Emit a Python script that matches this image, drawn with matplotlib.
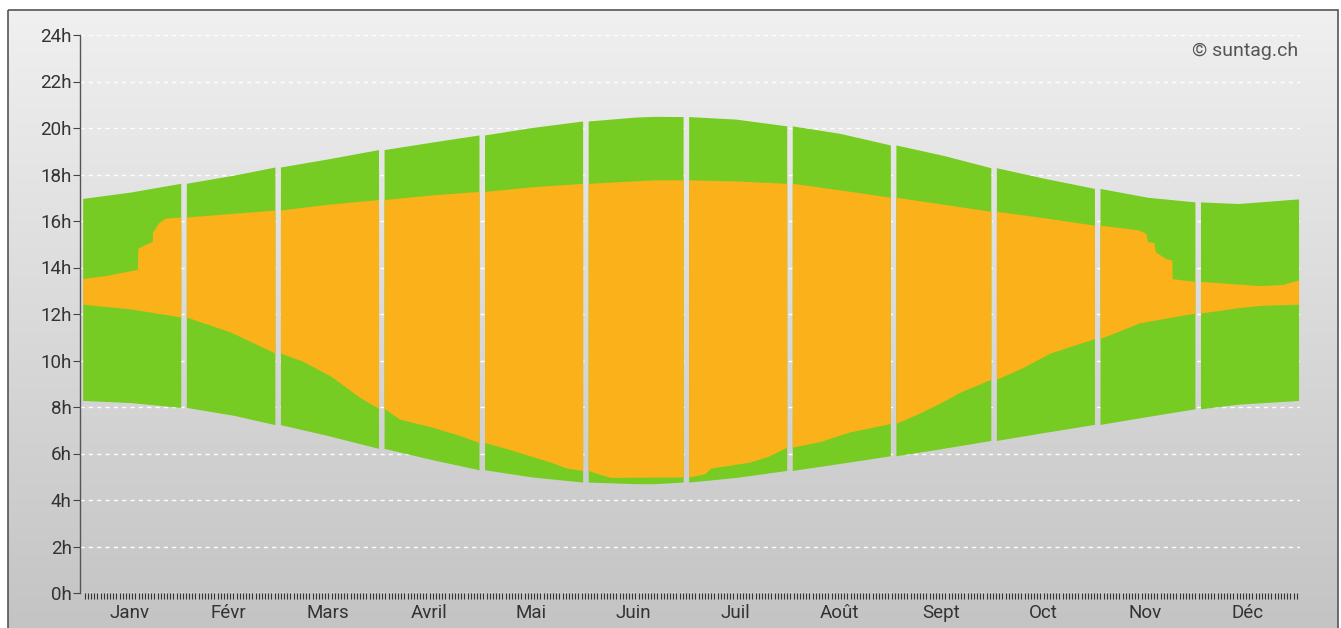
import numpy as np
import matplotlib
matplotlib.use("Agg")
import matplotlib.pyplot as plt
from matplotlib.patches import Rectangle

plt.rcParams['font.family'] = ['Roboto', 'DejaVu Sans']

# données (jour de l'année, heure)
month_names = ["Janv", "Févr", "Mars", "Avril", "Mai", "Juin",
               "Juil", "Août", "Sept", "Oct", "Nov", "Déc"]
month_days = [31, 28, 31, 30, 31, 30, 31, 31, 30, 31, 30, 31]

# lever / coucher du soleil (bande verte)
sun_days = [0, 15, 31, 46, 59, 74, 90, 105, 120, 135, 151, 166, 172, 181, 196,
            212, 227, 243, 258, 273, 288, 304, 319, 334, 346, 365]
sunset = [16.95, 17.22, 17.6, 17.95, 18.3, 18.65, 19.05, 19.37, 19.68, 20.0, 20.28,
          20.45, 20.48, 20.47, 20.36, 20.07, 19.75, 19.25, 18.8, 18.27, 17.82, 17.38,
          17.0, 16.8, 16.73, 16.93]
sunrise = [8.26, 8.17, 7.96, 7.62, 7.22, 6.75, 6.2, 5.72, 5.28, 4.97, 4.75,
           4.68, 4.68, 4.75, 4.95, 5.25, 5.55, 5.88, 6.2, 6.54, 6.88, 7.23,
           7.57, 7.9, 8.1, 8.26]

# soleil visible (bande orange), fin
vis_end_days = [0, 8, 17.3, 17.4, 19.5, 22, 22.1, 24, 26, 31, 59, 74, 90, 105, 120,
                135, 151, 172, 181, 196, 212, 228, 243, 258, 273, 289, 304, 313,
                316, 318.5, 319, 321, 321.5, 325, 326.7, 326.8, 334, 353, 360, 365]
vis_end = [13.5, 13.65, 13.9, 14.8, 14.95, 15.1, 15.5, 15.9, 16.1, 16.15, 16.45,
           16.7, 16.9, 17.1, 17.25, 17.45, 17.6, 17.75, 17.75, 17.7, 17.6, 17.3,
           17.0, 16.7, 16.4, 16.1, 15.8, 15.65, 15.6, 15.45, 15.1, 15.05, 14.65,
           14.35, 14.3, 13.5, 13.38, 13.2, 13.25, 13.45]

# soleil visible, début
vis_start_days = [0, 15, 31, 45, 59, 66, 75, 84, 90, 95, 105, 114, 120, 128, 135,
                  141, 146, 151, 155, 158, 181, 186, 188, 200, 206, 212, 221, 230,
                  243, 251, 257, 263, 273, 281, 290, 304, 316.6, 329, 334, 346,
                  353, 365]
vis_start = [12.4, 12.2, 11.85, 11.2, 10.3, 9.95, 9.3, 8.4, 7.92, 7.45, 7.12, 6.75,
             6.45, 6.15, 5.85, 5.6, 5.35, 5.25, 5.07, 4.95, 4.97, 5.1, 5.35, 5.6,
             5.85, 6.25, 6.5, 6.9, 7.27, 7.75, 8.15, 8.6, 9.17, 9.65, 10.3, 10.92,
             11.6, 11.9, 12.02, 12.25, 12.35, 12.4]

GREEN = "#76cc22"
ORANGE = "#fbb11a"
GAP = 1.75  # écart entre les mois, en jours

cum = np.concatenate([[0], np.cumsum(month_days)])


def band(ax, d_lo, lo, d_hi, hi, color):
    d_lo, lo, d_hi, hi = map(np.asarray, (d_lo, lo, d_hi, hi))
    for m in range(12):
        a, b = cum[m], cum[m + 1]
        s1 = (d_hi >= a) & (d_hi <= b)
        s2 = (d_lo >= a) & (d_lo <= b)
        xu = d_hi[s1] + m * GAP
        xl = d_lo[s2] + m * GAP
        ax.fill(np.r_[xu, xl[::-1]], np.r_[hi[s1], lo[s2][::-1]],
                color=color, lw=0, zorder=3)


fig = plt.figure(figsize=(13.41, 6.28), dpi=100)

# fond dégradé avec cadre
bg = fig.add_axes([0, 0, 1, 1])
bg.set_xlim(0, 1341)
bg.set_ylim(628, 0)
bg.axis("off")
grad = np.linspace(0, 1, 256).reshape(-1, 1)
bg.imshow(grad, cmap=matplotlib.colors.LinearSegmentedColormap.from_list(
    "g", ["#f0f0f0", "#c3c3c3"]), extent=(8, 1338, 640, 10), aspect="auto")
bg.add_patch(Rectangle((8, 10), 1330, 640, fill=False, ec="#555555", lw=1.2))

ax = fig.add_axes([80 / 1341, 35 / 628, 1220 / 1341, 558 / 628])
ax.set_facecolor("none")

band(ax, sun_days, sunrise, sun_days, sunset, GREEN)
band(ax, vis_start_days, vis_start, vis_end_days, vis_end, ORANGE)

total = 365 + 11 * GAP
ax.set_xlim(-1, total + 0.3)
ax.set_ylim(0, 24)

yt = np.arange(0, 25, 2)
ax.set_yticks(yt)
ax.set_yticklabels([f"{int(v)}h" for v in yt], fontsize=13.5, color="#333333")
for v in yt:
    ax.axhline(v, color="white", lw=1, ls=(0, (3, 3)), zorder=1)

# ticks des jours et noms des mois
mid_x = [cum[m] + month_days[m] / 2 + m * GAP - 0.8 for m in range(12)]
ax.set_xticks(np.arange(0.5, total, 1.0), minor=True)
ax.set_xticks(mid_x)
ax.set_xticklabels(month_names, fontsize=13.5, color="#333333")
ax.tick_params(axis="x", which="major", length=0, pad=8)
ax.tick_params(axis="x", which="minor", length=4, width=0.8, color="#333333")
ax.tick_params(axis="y", length=5, width=0.8, color="#444444", pad=1)

for s in ["top", "right", "bottom"]:
    ax.spines[s].set_visible(False)
ax.spines["left"].set_color("#555555")
ax.spines["left"].set_linewidth(1)

ax.text(0.9985, 0.971, "© suntag.ch", transform=ax.transAxes, ha="right", va="center",
        fontsize=14, color="#555555")

fig.savefig("out.png", dpi=100)
